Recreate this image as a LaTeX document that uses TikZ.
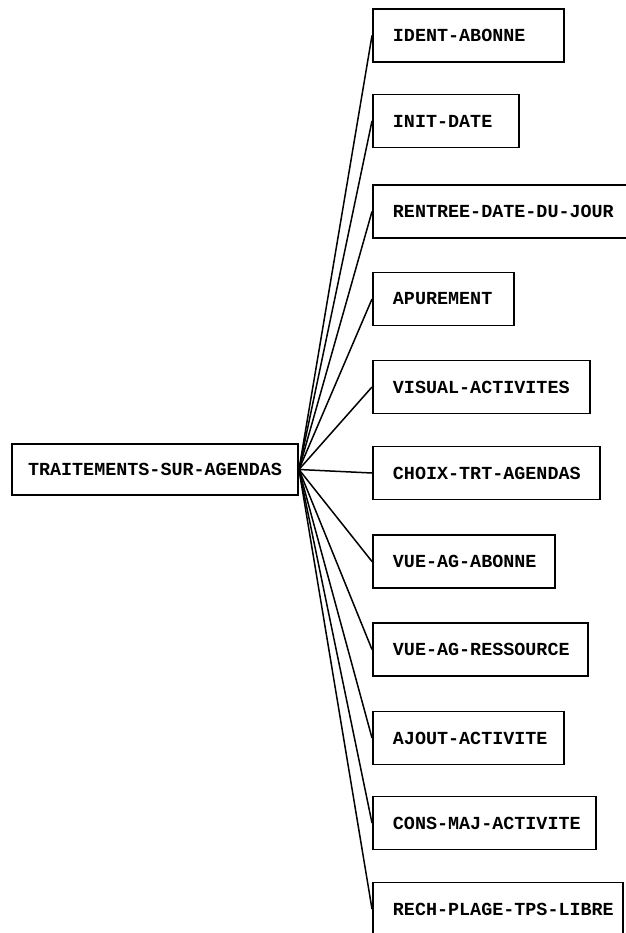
\documentclass[tikz,border=0pt]{standalone}
\usepackage{fontspec}
\setmonofont{Liberation Mono}
\begin{document}
\begin{tikzpicture}[x=1pt, y=-1pt,
    box/.style={draw, line width=1.9pt, font=\fontsize{18.4}{20}\selectfont\ttfamily\bfseries,
        minimum height=53pt, inner xsep=20pt},
    leaf/.style={box, anchor=west}]
    \useasboundingbox (0,0) rectangle (625,933);
    \node[box, minimum width=286pt, minimum height=51pt, inner xsep=12pt] (trt) at (155,469.5) {TRAITEMENTS-SUR-AGENDAS};
    % name / centre y / right edge / text
    \foreach \n/\y/\r/\t in {ident/35.5/563/IDENT-ABONNE, init/121/518/INIT-DATE,
        rentree/211.5/636/RENTREE-DATE-DU-JOUR, apur/299/513/APUREMENT,
        visual/387/589/VISUAL-ACTIVITES, choix/473/599/CHOIX-TRT-AGENDAS,
        vueab/561.5/554/VUE-AG-ABONNE, vueres/649.5/587/VUE-AG-RESSOURCE,
        ajout/738/563/AJOUT-ACTIVITE, cons/823/595/CONS-MAJ-ACTIVITE,
        rech/909/622/RECH-PLAGE-TPS-LIBRE}{
        \pgfmathsetmacro\w{\r-372-40}
        \node[leaf] (\n) at (372,\y) {\makebox[\w pt][l]{\t}};
        \draw[line width=1.5pt] (trt.east) -- (\n.west);
    }
\end{tikzpicture}
\end{document}
